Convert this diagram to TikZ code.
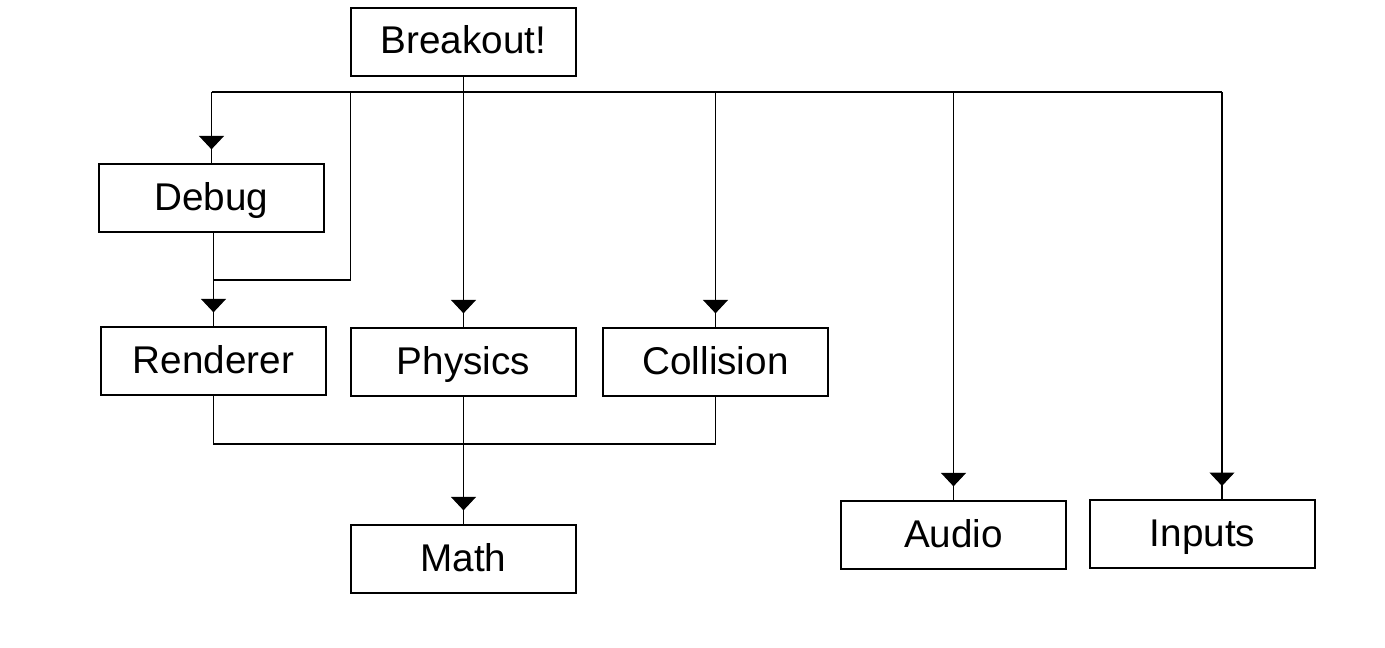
\documentclass[tikz,border=0pt]{standalone}
\usepackage{fontspec}
\setmainfont{Liberation Sans}
\usetikzlibrary{arrows.meta,decorations.markings}
\tikzset{
  modbox/.style={draw, line width=0.7pt, minimum width=4.5cm, minimum height=1.36cm,
    text height=0.56cm, text depth=0.08cm, inner sep=0pt, font=\fontsize{22}{26}\selectfont},
  arrowin/.style={decoration={markings,
      mark=at position -0.28cm with {\arrow{Triangle[width=0.5cm,length=0.27cm]}}},
    postaction={decorate}}
}
\begin{document}
\begin{tikzpicture}[line width=0.65pt]
\useasboundingbox (0,0) rectangle (27.7,-12.96);
% Modules
\node[modbox] (Breakout) at (9.27,-0.84) {Breakout!};
\node[modbox] (Debug) at (4.23,-3.96) {Debug};
\node[modbox] (Renderer) at (4.27,-7.22) {Renderer};
\node[modbox] (Physics) at (9.27,-7.24) {Physics};
\node[modbox] (Collision) at (14.31,-7.24) {Collision};
\node[modbox] (Math) at (9.27,-11.18) {Math};
\node[modbox] (Audio) at (19.07,-10.70) {Audio};
\node[modbox] (Inputs) at (24.05,-10.68) {Inputs};

% Bus levels
\coordinate (bus) at (0,-1.84);
\coordinate (join) at (0,-5.6);
\coordinate (low) at (0,-8.88);
\coordinate (intop) at (24.44,-10.0);

% Top bus
\draw (Debug.north |- bus) -- (intop |- bus);
\draw[arrowin] (Breakout) -- (Physics);
\draw[arrowin] (Debug.north |- bus) -- (Debug);
\draw (Breakout.south west |- bus) -- (Breakout.south west |- join) -- (Renderer.north |- join);
\draw[arrowin] (Renderer.north |- Debug.south) -- (Renderer);
\draw[arrowin] (Collision.north |- bus) -- (Collision);
\draw[arrowin] (Audio.north |- bus) -- (Audio);
\draw[arrowin] (intop |- bus) -- (intop);

% Lower bus
\draw (Renderer) -- (Renderer.south |- low) -- (Collision.south |- low) -- (Collision);
\draw[arrowin] (Physics) -- (Math);
\end{tikzpicture}
\end{document}
